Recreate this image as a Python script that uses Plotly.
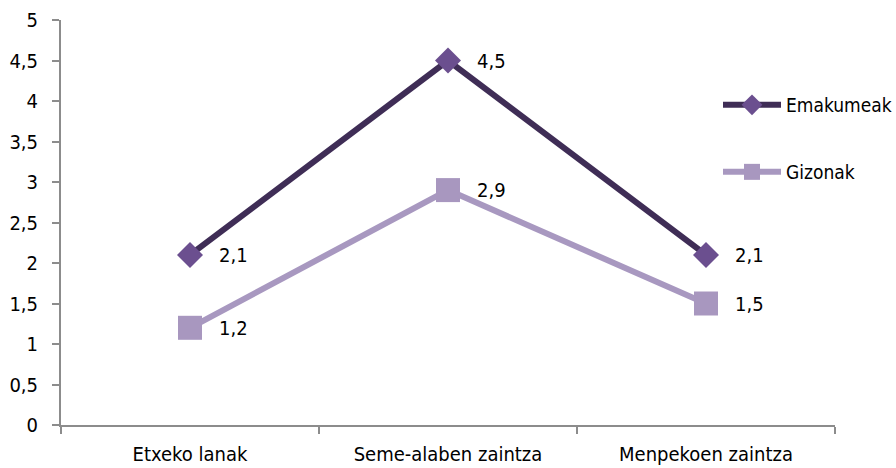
import plotly.graph_objects as go

categories = ["Etxeko lanak", "Seme-alaben zaintza", "Menpekoen zaintza"]
emakumeak = [2.1, 4.5, 2.1]
gizonak = [1.2, 2.9, 1.5]
yticks = [0, 0.5, 1, 1.5, 2, 2.5, 3, 3.5, 4, 4.5, 5]

FONT = "DejaVu Sans Condensed, Liberation Sans Narrow, sans-serif"
FS = 20

def fmt(v):
    s = f"{v:.1f}".replace(".", ",")
    return s[:-2] if s.endswith(",0") else s

W, H = 896, 468
L, R, T, B = 61, 61, 20, 43

fig = go.Figure()
fig.add_trace(go.Scatter(
    x=categories, y=emakumeak, name="Emakumeak", mode="lines+markers",
    line=dict(color="#3f2d56", width=6),
    marker=dict(symbol="diamond", size=20, color="#6b4f8f"),
    legend="legend", showlegend=True, cliponaxis=False,
))
fig.add_trace(go.Scatter(
    x=categories, y=gizonak, name="Gizonak", mode="lines+markers",
    line=dict(color="#a898c0", width=6),
    marker=dict(symbol="square", size=24, color="#a897bf"),
    legend="legend2", showlegend=True, cliponaxis=False,
))

for series in (emakumeak, gizonak):
    for c, v in zip(categories, series):
        fig.add_annotation(x=c, y=v, text=fmt(v), showarrow=False,
                           xanchor="left", yanchor="middle", xshift=27,
                           font=dict(size=FS, family=FONT, color="black"))

leg = dict(xref="container", yref="container", x=718 / W, xanchor="left",
           yanchor="middle", bgcolor="rgba(0,0,0,0)", font=dict(size=19),
           itemwidth=58)
fig.update_layout(
    width=W, height=H,
    margin=dict(l=L, r=R, t=T, b=B, autoexpand=False),
    paper_bgcolor="white", plot_bgcolor="white",
    font=dict(family=FONT, size=FS, color="black"),
    showlegend=True,
    legend=dict(leg, y=1 - 105 / H),
    legend2=dict(leg, y=1 - 172 / H),
)
fig.update_xaxes(
    type="category", range=[-0.5, 2.5], showgrid=False, automargin=False,
    showline=True, linecolor="#8c8c8c", linewidth=2,
    ticks="outside", tickson="boundaries", ticklen=7, tickcolor="#8c8c8c", tickwidth=2,
    tickfont=dict(size=FS, family=FONT), ticklabelstandoff=10,
)
fig.update_yaxes(
    range=[0, 5], tickvals=yticks, ticktext=[fmt(v) for v in yticks],
    showgrid=False, zeroline=False, automargin=False,
    showline=True, linecolor="#8c8c8c", linewidth=2,
    ticks="outside", ticklen=7, tickcolor="#8c8c8c", tickwidth=2,
    tickfont=dict(size=FS, family=FONT), ticklabelstandoff=10,
)

fig.write_html("out.html", config={"displayModeBar": False},
               post_script="document.body.style.margin='0px';")
